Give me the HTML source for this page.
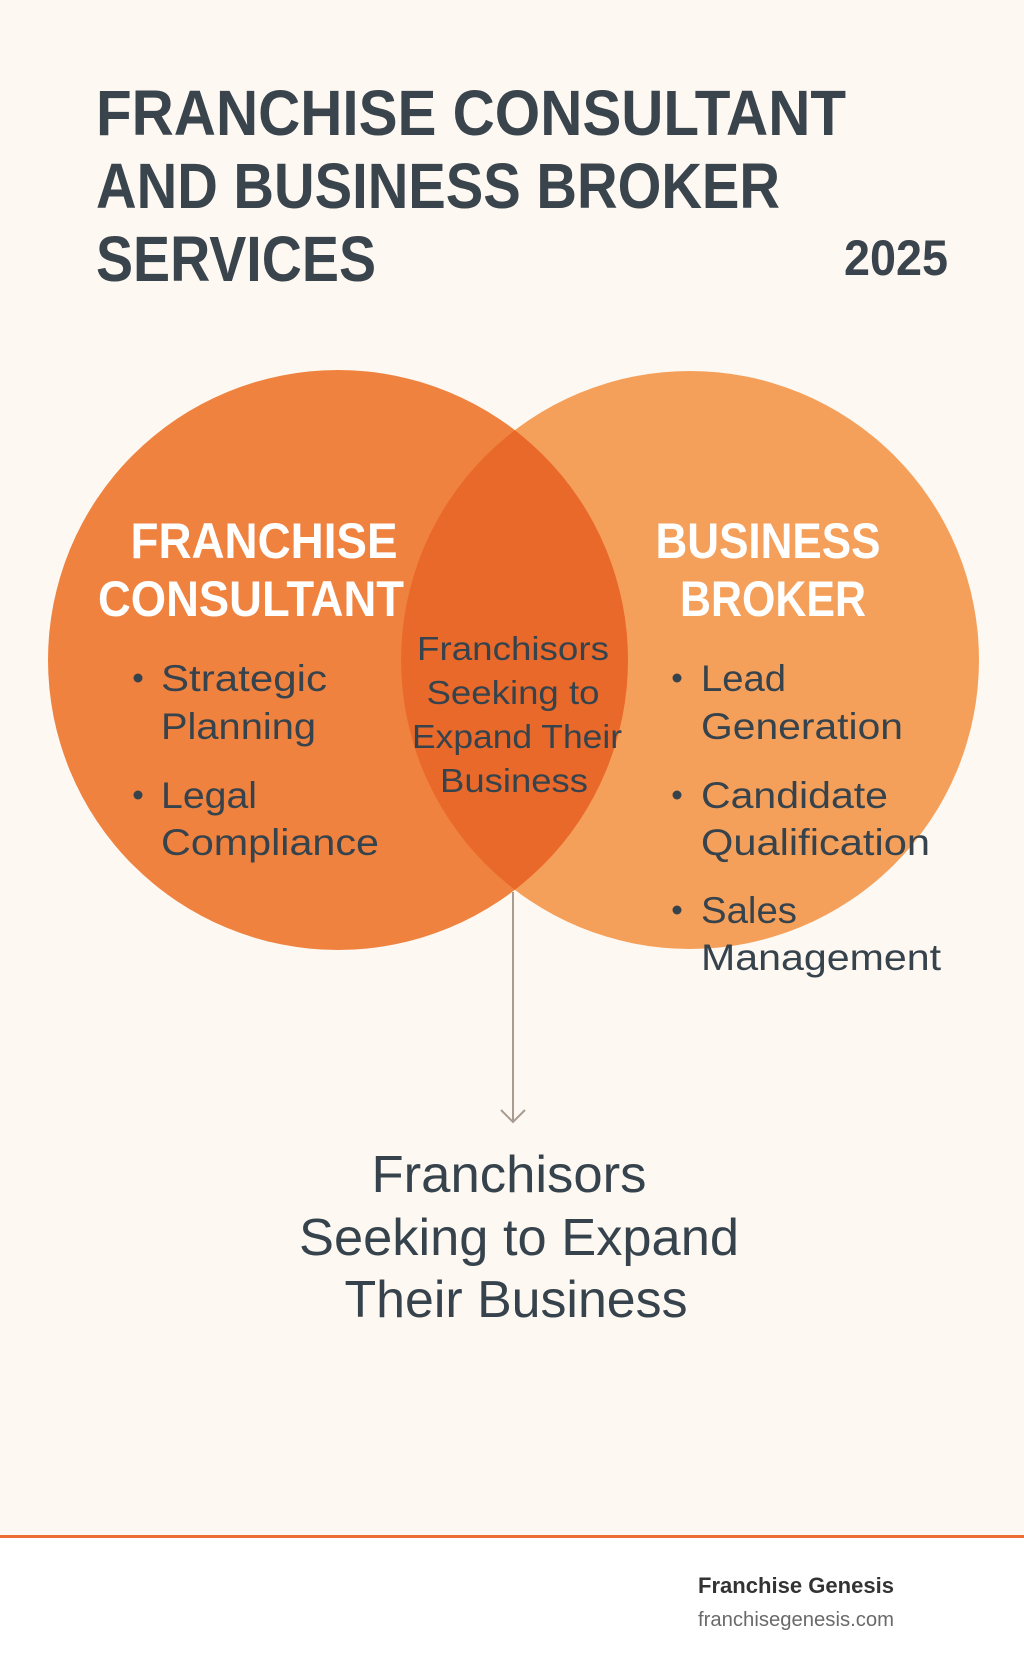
<!DOCTYPE html>
<html><head><meta charset="utf-8"><style>
html,body{margin:0;padding:0;background:#fdf8f2}
svg{display:block}
text{font-family:"Liberation Sans",sans-serif}
</style></head><body>
<svg width="1024" height="1666" viewBox="0 0 1024 1666" xmlns="http://www.w3.org/2000/svg">
<rect width="1024" height="1536" fill="#fdf8f2"/>
<rect y="1536" width="1024" height="130" fill="#ffffff"/>
<rect y="1535" width="1024" height="3" fill="#ec6e35"/>
<g fill="#3a444c" font-weight="bold">
<text x="96" y="135" font-size="64" textLength="750" lengthAdjust="spacingAndGlyphs">FRANCHISE CONSULTANT</text>
<text x="96" y="208" font-size="64" textLength="684" lengthAdjust="spacingAndGlyphs">AND BUSINESS BROKER</text>
<text x="96" y="281" font-size="64" textLength="280" lengthAdjust="spacingAndGlyphs">SERVICES</text>
<text x="844" y="275" font-size="50" textLength="104" lengthAdjust="spacingAndGlyphs" font-weight="bold">2025</text>
</g>
<defs><clipPath id="cl"><circle cx="338" cy="660" r="290"/></clipPath></defs>
<circle cx="338" cy="660" r="290" fill="#f0823f"/>
<circle cx="690" cy="660" r="289" fill="#f5a05a"/>
<circle cx="690" cy="660" r="289" fill="#e9692a" clip-path="url(#cl)"/>
<g fill="#ffffff" font-weight="bold" font-size="50" text-anchor="middle">
<text x="264" y="558" textLength="267" lengthAdjust="spacingAndGlyphs">FRANCHISE</text>
<text x="251" y="616" textLength="306" lengthAdjust="spacingAndGlyphs">CONSULTANT</text>
<text x="768" y="558" textLength="225" lengthAdjust="spacingAndGlyphs">BUSINESS</text>
<text x="773" y="616" textLength="186" lengthAdjust="spacingAndGlyphs">BROKER</text>
</g>
<g fill="#36434c" font-size="37" lengthAdjust="spacingAndGlyphs">
<circle cx="138" cy="678" r="4.5"/><circle cx="138" cy="795" r="4.5"/>
<text x="161" y="691" textLength="166" lengthAdjust="spacingAndGlyphs">Strategic</text>
<text x="161" y="739" textLength="155" lengthAdjust="spacingAndGlyphs">Planning</text>
<text x="161" y="808" textLength="96" lengthAdjust="spacingAndGlyphs">Legal</text>
<text x="161" y="855" textLength="218" lengthAdjust="spacingAndGlyphs">Compliance</text>
<circle cx="677" cy="678" r="4.5"/><circle cx="677" cy="795" r="4.5"/><circle cx="677" cy="910" r="4.5"/>
<text x="701" y="691" textLength="85" lengthAdjust="spacingAndGlyphs">Lead</text>
<text x="701" y="739" textLength="202" lengthAdjust="spacingAndGlyphs">Generation</text>
<text x="701" y="808" textLength="187" lengthAdjust="spacingAndGlyphs">Candidate</text>
<text x="701" y="855" textLength="229" lengthAdjust="spacingAndGlyphs">Qualification</text>
<text x="701" y="923" textLength="96" lengthAdjust="spacingAndGlyphs">Sales</text>
<text x="701" y="970" textLength="240" lengthAdjust="spacingAndGlyphs">Management</text>
</g>
<g fill="#36434c" font-size="33" text-anchor="middle">
<text x="513" y="660" textLength="192" lengthAdjust="spacingAndGlyphs">Franchisors</text>
<text x="513" y="704" textLength="173" lengthAdjust="spacingAndGlyphs">Seeking to</text>
<text x="517" y="748" textLength="210" lengthAdjust="spacingAndGlyphs">Expand Their</text>
<text x="514" y="792" textLength="148" lengthAdjust="spacingAndGlyphs">Business</text>
</g>
<line x1="513" y1="892" x2="513" y2="1122" stroke="#a89c92" stroke-width="2"/>
<polyline points="501,1110 513,1122 525,1110" fill="none" stroke="#a89c92" stroke-width="2"/>
<g fill="#36434c" font-size="52" text-anchor="middle">
<text x="509" y="1192" textLength="275" lengthAdjust="spacingAndGlyphs">Franchisors</text>
<text x="519" y="1255" textLength="440" lengthAdjust="spacingAndGlyphs">Seeking to Expand</text>
<text x="516" y="1317" textLength="343" lengthAdjust="spacingAndGlyphs">Their Business</text>
</g>
<text x="698" y="1593" font-size="22" font-weight="bold" fill="#333" textLength="196" lengthAdjust="spacingAndGlyphs">Franchise Genesis</text>
<text x="698" y="1626" font-size="20" fill="#6a6a6a" textLength="196" lengthAdjust="spacingAndGlyphs">franchisegenesis.com</text>
</svg>
</body></html>
